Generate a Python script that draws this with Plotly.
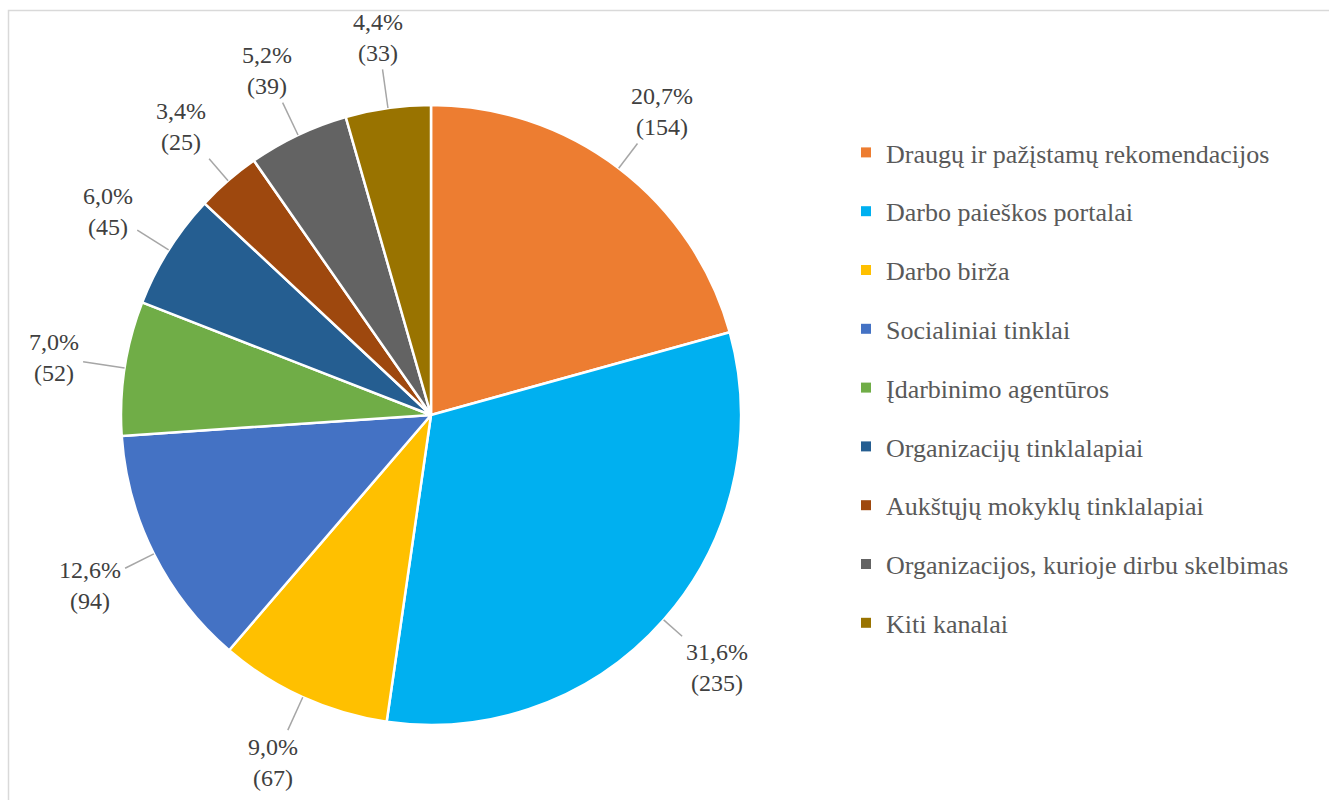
import math
import plotly.graph_objects as go

# Job search channels: respondent counts
categories = [
    "Draugų ir pažįstamų rekomendacijos",
    "Darbo paieškos portalai",
    "Darbo birža",
    "Socialiniai tinklai",
    "Įdarbinimo agentūros",
    "Organizacijų tinklalapiai",
    "Aukštųjų mokyklų tinklalapiai",
    "Organizacijos, kurioje dirbu skelbimas",
    "Kiti kanalai",
]
counts = [154, 235, 67, 94, 52, 45, 25, 39, 33]
colors = ["#ED7D31", "#00B0F0", "#FFC000", "#4472C4", "#70AD47",
          "#255E91", "#9E480E", "#636363", "#997300"]

W, H = 1329, 800
FONT = "Liberation Serif, Times New Roman, serif"

# pie geometry in page pixels
CX, CY, R = 431, 415, 310


def px(x):
    return x / W


def py(y):
    return 1 - y / H


fig = go.Figure()

fig.add_trace(go.Pie(
    labels=categories,
    values=counts,
    sort=False,
    direction="clockwise",
    rotation=0,
    marker=dict(colors=colors, line=dict(color="white", width=2.5)),
    textinfo="none",
    hoverinfo="label+value+percent",
    showlegend=False,
    domain=dict(x=[px(CX - R), px(CX + R)], y=[py(CY + R), py(CY - R)]),
))

# legend entries drawn with empty marker traces so the spacing can be set
for i, (name, col) in enumerate(zip(categories, colors)):
    fig.add_trace(go.Scatter(
        x=[None], y=[None], mode="markers", name=name,
        marker=dict(symbol="square", size=10, color=col),
        legendgroup=f"g{i}", showlegend=True, hoverinfo="skip",
    ))

# outside labels with leader lines, placed along each slice's mid angle
total = sum(counts)
annotations = []
shapes = []
cum = 0
CHAR_W = {"(": 8, ")": 8, ",": 6, "%": 20}
for v in counts:
    frac = v / total
    mid = (cum + frac / 2) * 2 * math.pi
    cum += frac
    sx, sy = math.sin(mid), -math.cos(mid)
    pct = f"{100 * frac:.1f}".replace(".", ",") + "%"
    cnt = f"({v})"
    lx, ly = CX + 1.23 * R * sx, CY + 1.23 * R * sy
    annotations.append(dict(
        x=px(lx), y=py(ly), xref="paper", yref="paper",
        text=f"{pct}<br>{cnt}", showarrow=False,
        xanchor="center", yanchor="middle", align="center",
        font=dict(family=FONT, size=24, color="#404040"),
    ))
    # leader from the arc to the edge of the label box
    hw = max(sum(CHAR_W.get(c, 12) for c in s) for s in (pct, cnt)) / 2 + 4
    hh = 32
    x0, y0 = CX + R * sx, CY + R * sy
    dx, dy = lx - x0, ly - y0
    ts = []
    if dx:
        ts.append((abs(dx) - hw) / abs(dx))
    if dy:
        ts.append((abs(dy) - hh) / abs(dy))
    t = max(ts)
    if t > 0:
        x1, y1 = x0 + dx * t, y0 + dy * t
        shapes.append(dict(
            type="line", xref="paper", yref="paper",
            x0=px(x0), y0=py(y0), x1=px(x1), y1=py(y1),
            line=dict(color="#A6A6A6", width=1.5),
        ))

# light frame around the chart area
shapes.append(dict(
    type="rect", xref="paper", yref="paper",
    x0=px(8.5), y0=py(H + 20), x1=px(W + 20), y1=py(10.5),
    line=dict(color="#D9D9D9", width=1.5), layer="below",
))

fig.update_layout(
    width=W, height=H,
    margin=dict(l=0, r=0, t=0, b=0),
    paper_bgcolor="white", plot_bgcolor="white",
    xaxis=dict(visible=False), yaxis=dict(visible=False),
    showlegend=True,
    legend=dict(
        x=px(846), y=py(129), xanchor="left", yanchor="top",
        font=dict(family=FONT, size=26, color="#595959"),
        tracegroupgap=22, traceorder="grouped",
        bgcolor="rgba(0,0,0,0)",
    ),
    annotations=annotations,
    shapes=shapes,
)

fig.write_html("out.html")
